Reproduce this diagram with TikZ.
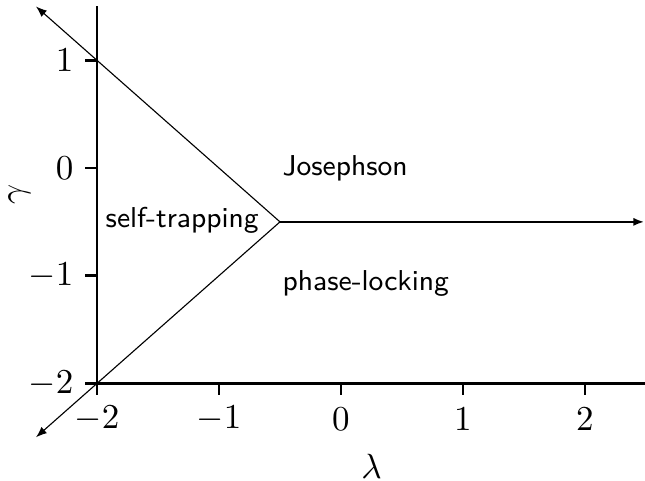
\documentclass[tikz,border=0pt]{standalone}
\usetikzlibrary{arrows.meta}
\begin{document}
\begin{tikzpicture}[x=1.342cm, y=1.1847cm,
  axis/.style={line width=0.8pt},
  tickmark/.style={line width=0.8pt},
  boundary/.style={line width=0.35pt, -{Latex[length=3.4pt,width=2.6pt]}},
  boundarythick/.style={line width=0.65pt, -{Latex[length=3.4pt,width=2.6pt]}},
  ticklabel/.style={inner sep=0pt, font=\fontsize{10.5}{12}\selectfont},
  region/.style={inner sep=0pt, font=\sffamily\fontsize{9}{11}\selectfont}]
\useasboundingbox (-2.795,-2.906) rectangle (2.492,1.560);
% coordinates
\coordinate (O) at (-2,-2);
\coordinate (Xend) at (2.5,-2);
\coordinate (Yend) at (-2,1.5);
\coordinate (P) at (-0.5,-0.5);
\coordinate (UL) at (-2.5,1.5);
\coordinate (LL) at (-2.5,-2.5);
\coordinate (R) at (2.485,-0.5);
% axes
\draw[axis] (Yend) -- (O) -- (Xend);
% x ticks
\foreach \x in {-2,-1,0,1,2} {
  \draw[tickmark] (\x,-2) -- (\x,-2.111);
  \node[ticklabel] (xl\x) at (\x,-2.33) {$\x$};
}
% y ticks
\foreach \y in {-2,-1,0,1} {
  \draw[tickmark] (-2,\y) -- (-2.098,\y);
  \node[ticklabel, anchor=east] (yl\y) at (-2.189,\y) {$\y$};
}
% axis labels
\node[ticklabel] (lam) at (0.25,-2.77) {$\lambda$};
\node[ticklabel, rotate=90] (gam) at (-2.635,-0.25) {$\gamma$};
% boundaries
\draw[boundary] (P) -- (UL);
\draw[boundary] (P) -- (LL);
\draw[boundarythick] (P) -- (R);
% regions
\node[region, anchor=base west] (jos) at (-0.484,-0.065) {Josephson};
\node[region, anchor=base west] (st) at (-1.934,-0.548) {self-trapping};
\node[region, anchor=base west] (pl) at (-0.484,-1.133) {phase-locking};
\end{tikzpicture}
\end{document}
